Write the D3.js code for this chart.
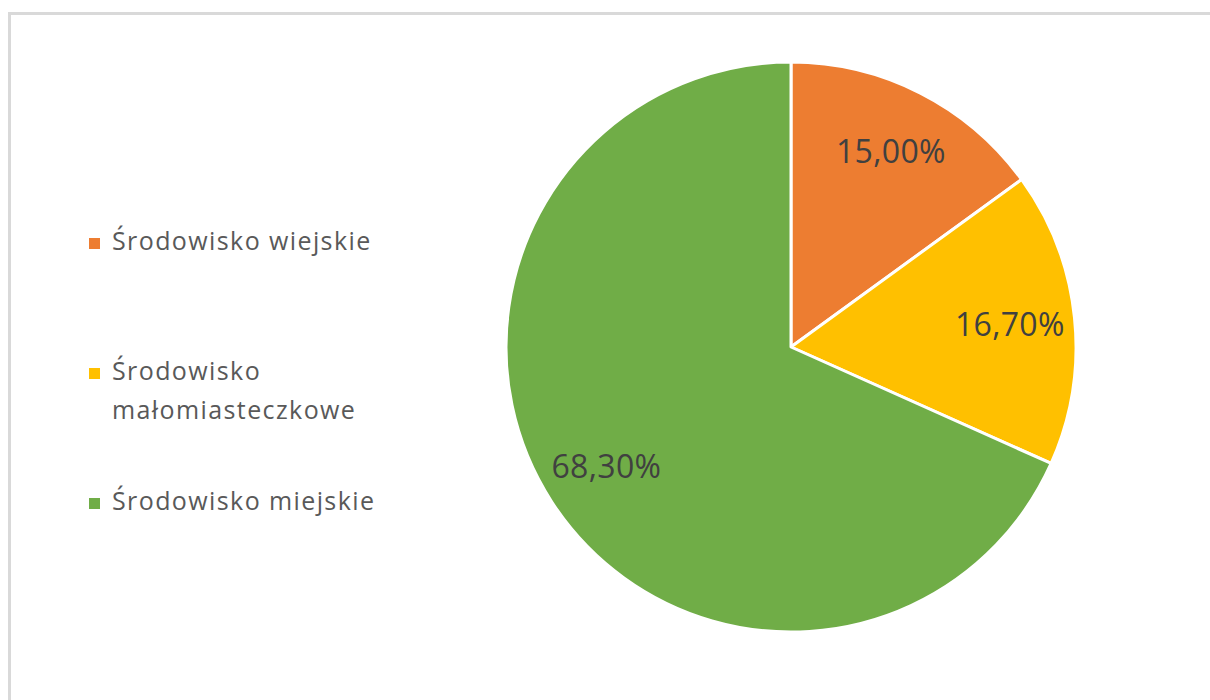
<!DOCTYPE html>
<html><head><meta charset="utf-8">
<script src="https://cdn.jsdelivr.net/npm/d3@7"></script>
<style>html,body{margin:0;padding:0;background:#fff;}svg{display:block;}</style>
</head><body>
<svg id="c" width="1210" height="700"></svg>
<script>
const categories = ["Środowisko wiejskie", "Środowisko małomiasteczkowe", "Środowisko miejskie"];
const legendLines = [["Środowisko wiejskie"], ["Środowisko", "małomiasteczkowe"], ["Środowisko miejskie"]];
const values = [15.0, 16.7, 68.3];
const labels = ["15,00%", "16,70%", "68,30%"];
const colors = ["#ED7D31", "#FFC000", "#70AD47"];

const svg = d3.select("#c");
const font = "'Open Sans', sans-serif";

// frame
svg.append("path").attr("d", "M9.5,700 V13.5 H1210").attr("fill", "none")
  .attr("stroke", "#d9d9d9").attr("stroke-width", 3);

const cx = 791, cy = 347, R = 285;
const pie = d3.pie().sort(null).value(d => d)(values);
const arc = d3.arc().innerRadius(0).outerRadius(R);
const labelArc = d3.arc().innerRadius(220).outerRadius(220);
const g = svg.append("g").attr("transform", `translate(${cx},${cy})`);
g.selectAll("path").data(pie).join("path")
  .attr("d", arc).attr("fill", (d, i) => colors[i])
  .attr("stroke", "#fff").attr("stroke-width", 3).attr("stroke-linejoin", "round");
g.selectAll("text").data(pie).join("text")
  .attr("transform", d => `translate(${labelArc.centroid(d)})`)
  .attr("text-anchor", "middle").attr("dy", "0.36em")
  .attr("font-family", font).attr("font-size", 32).attr("fill", "#404040")
  .attr("letter-spacing", 0.3)
  .text((d, i) => labels[i]);

// legend
const legendY = [250, 380, 510];
const lg = svg.append("g");
categories.forEach((c, i) => {
  lg.append("rect").attr("x", 89).attr("y", legendY[i] - 12).attr("width", 11).attr("height", 11)
    .attr("fill", colors[i]);
  legendLines[i].forEach((t, j) => {
    lg.append("text").attr("x", 112).attr("y", legendY[i] + j * 39)
      .attr("font-family", font).attr("font-size", 25).attr("fill", "#595959")
      .attr("letter-spacing", 1.4).text(t);
  });
});
</script>
</body></html>
